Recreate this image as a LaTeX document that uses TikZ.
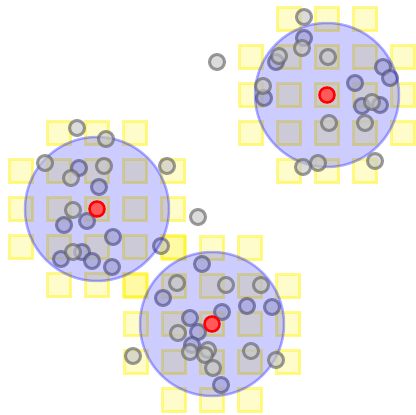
\documentclass[tikz,border=0pt]{standalone}
\begin{document}
\begin{tikzpicture}[x=1pt,y=-1pt,
 sq/.style={draw=yellow, draw opacity=0.45, fill=yellow, fill opacity=0.2, line width=3pt},
 blob/.style={draw=blue, draw opacity=0.3, fill=blue, fill opacity=0.2, line width=2.5pt},
 pt/.style={draw=black!60, fill=black!22, line width=3pt, opacity=0.65},
 ctr/.style={draw=red, fill=red!65, line width=2.5pt}]
\useasboundingbox (0,0) rectangle (416,415);
% yellow grid squares
\foreach \cx/\cy in {97/209,327/95,212/324}{
  \foreach \i in {-2,...,2}{
    \foreach \j in {-2,...,2}{
      \pgfmathtruncatemacro\c{abs(\i*\j)}
      \ifnum\c<4
        \draw[sq] ({\cx+38*\i-11.5},{\cy+38*\j-11.5}) rectangle ++(23,23);
      \fi
    }
  }
}
% points below the circles
\foreach \x/\y in {79/168,99/187,64/225,87/221,113/237,161/246,82/252,61/259,92/261,112/267,
  304/38,276/62,383/67,390/78,355/83,264/98,362/106,380/105,
  202/264,163/298,247/306,272/307,190/318,222/312,198/332,192/345,221/385}
  \draw[pt] (\x,\y) circle (7.5);
% circles
\foreach \cx/\cy in {97/209,327/95,212/324}
  \draw[blob] (\cx,\cy) circle (72);
% points above the circles
\foreach \x/\y in {77/128,106/139,45/163,71/178,104/166,167/166,73/210,73/252,
  304/17,302/48,279/56,328/57,263/86,372/102,329/123,365/123,375/161,318/163,303/167,217/62,
  177/283,226/285,261/285,178/333,190/352,208/350,205/355,251/351,276/360,133/356,213/368,198/217}
  \draw[pt] (\x,\y) circle (7.5);
% centres
\foreach \cx/\cy in {97/209,327/95,212/324}
  \draw[ctr] (\cx,\cy) circle (7.5);
\end{tikzpicture}
\end{document}
